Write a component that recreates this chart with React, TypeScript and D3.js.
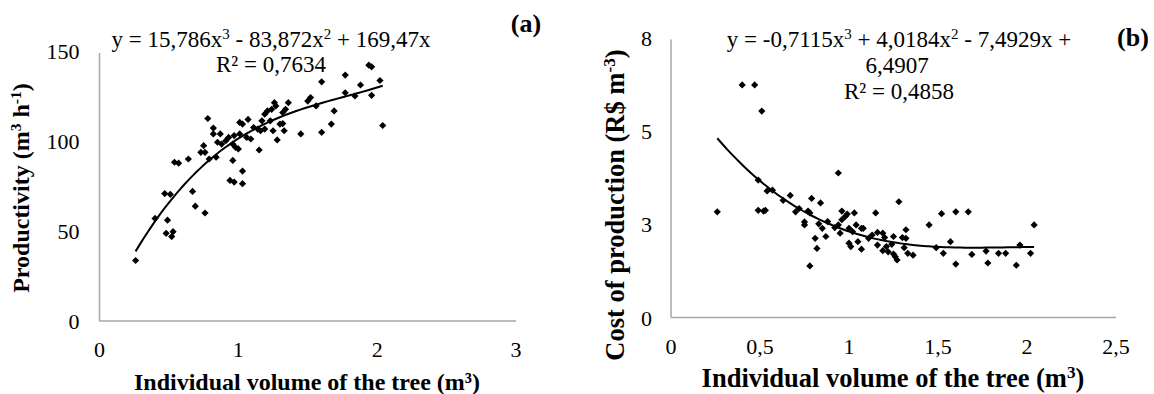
import * as d3 from 'd3';

// (a) productivity vs individual tree volume
const volA = [
  0.26, 0.40, 0.47, 0.51, 0.49, 0.48, 0.52, 0.53, 0.54, 0.57,
  0.64, 0.67, 0.69, 0.76, 0.73, 0.75, 0.76, 0.78, 0.79, 0.82,
  0.82, 0.84, 0.85, 0.87, 0.88, 0.91, 0.93, 0.94, 0.97, 0.96,
  0.96, 0.97, 0.98, 1.00, 1.01, 1.01, 1.03, 1.03, 1.03, 1.06,
  1.07, 1.09, 1.11, 1.14, 1.15, 1.16, 1.17, 1.19, 1.19, 1.21,
  1.23, 1.24, 1.25, 1.26, 1.27, 1.28, 1.30, 1.32, 1.33, 1.34,
  1.36, 1.32, 1.45, 1.50, 1.52, 1.56, 1.60, 1.60, 1.67, 1.69,
  1.77, 1.77, 1.84, 1.88, 1.94, 1.96, 1.96, 2.02, 2.04,
];
const prodA = [
  33.6, 57, 70.8, 70.4, 56, 48.7, 46.9, 49.6, 88.2, 87.7,
  90, 72, 63.8, 60, 93.7, 97.4, 93.7, 112.5, 90, 107.2,
  103.9, 91, 99.3, 103.9, 98.3, 100.2, 102, 78.1, 77.2, 89.2,
  98.3, 103, 96.5, 95.6, 103.9, 110.3, 109.4, 83.3, 76.3, 102,
  112, 101.1, 107.5, 106.6, 95, 105.7, 111.2, 106.6, 114.9, 116.7,
  111.2, 117.6, 105.7, 121.3, 119.5, 100.6, 109.4, 115.8, 105.7, 117.6,
  121.3, 109.7, 103.9, 122.2, 124.1, 119.5, 132.9, 104.8, 109.4, 116.7,
  126.8, 136.6, 125, 131.1, 142.1, 141.2, 125.4, 133.6, 108.6,
];
// y = 15,786x³ - 83,872x² + 169,47x
const coefA = [15.786, -83.872, 169.47, 0];
const xTicksA = [0, 1, 2, 3];
const yTicksA = [0, 50, 100, 150];

// (b) cost of production vs individual tree volume
const volB = [
  0.26, 0.40, 0.47, 0.51, 0.49, 0.49, 0.52, 0.53, 0.54, 0.57,
  0.63, 0.67, 0.70, 0.72, 0.75, 0.75, 0.77, 0.78, 0.79, 0.78,
  0.81, 0.82, 0.83, 0.84, 0.85, 0.87, 0.88, 0.92, 0.94, 0.94,
  0.95, 0.96, 0.96, 0.98, 0.99, 1.00, 1.00, 1.01, 1.02, 1.03,
  1.04, 1.05, 1.07, 1.07, 1.08, 1.11, 1.13, 1.15, 1.16, 1.16,
  1.19, 1.19, 1.20, 1.21, 1.22, 1.24, 1.25, 1.25, 1.26, 1.27,
  1.28, 1.30, 1.31, 1.32, 1.32, 1.33, 1.36, 1.45, 1.49, 1.52,
  1.53, 1.57, 1.60, 1.60, 1.67, 1.69, 1.77, 1.78, 1.84, 1.88,
  1.94, 1.96, 2.02, 2.04,
];
const costB = [
  2.83, 6.23, 6.23, 5.53, 3.68, 2.87, 2.85, 2.87, 3.39, 3.41,
  3.14, 3.27, 2.83, 2.92, 2.56, 2.48, 2.85, 2.80, 3.19, 1.38,
  2.12, 1.85, 2.51, 3.07, 2.39, 2.17, 2.57, 2.41, 3.87, 2.48,
  2.26, 2.62, 2.85, 2.71, 2.77, 2.39, 1.99, 1.90, 2.30, 2.80,
  2.48, 2.03, 2.39, 1.83, 2.39, 2.12, 2.21, 2.80, 2.28, 1.94,
  2.26, 1.79, 2.14, 1.90, 1.76, 1.96, 1.70, 2.17, 1.63, 1.54,
  3.10, 2.14, 1.87, 2.35, 2.12, 1.72, 1.67, 2.48, 1.87, 2.78,
  1.72, 2.03, 2.83, 1.43, 2.83, 1.69, 1.78, 1.46, 1.72, 1.72,
  1.40, 1.94, 1.72, 2.48,
];
// y = -0,7115x³ + 4,0184x² - 7,4929x + 6,4907
const coefB = [-0.7115, 4.0184, -7.4929, 6.4907];
const xTicksB = [0, 0.5, 1, 1.5, 2, 2.5];
const yTicksB = [0, 2.5, 5, 7.5];

const W = 1154;
const H = 394;
const FONT = '"Liberation Serif", "Times New Roman", serif';
const AXIS = '#a6a6a6';

const poly = (c: number[], x: number) => ((c[0] * x + c[1]) * x + c[2]) * x + c[3];
const comma = (d: number) => String(d).replace('.', ',');

function trend(xs: number[], coef: number[], sx: any, sy: any) {
  const [lo, hi] = d3.extent(xs) as [number, number];
  const pts = d3.range(0, 61).map((i) => lo + ((hi - lo) * i) / 60);
  return d3.line<number>().x((v) => sx(v)).y((v) => sy(poly(coef, v))).curve(d3.curveMonotoneX)(pts) || '';
}

const marker = d3.symbol(d3.symbolSquare, 26)() || '';

function Panel({ xs, ys, coef, sx, sy, xTicks, yTicks, xFmt, yFmt, tickBaseX, tickRightY }: any) {
  const [x0, x1] = sx.range();
  const [y0, y1] = sy.range();
  return (
    <g>
      <line x1={x0} x2={x0} y1={y0} y2={y1 + 2} stroke={AXIS} strokeWidth={1.5} />
      <line x1={x0} x2={x1} y1={y0} y2={y0} stroke={AXIS} strokeWidth={1.5} />
      {yTicks.map((t: number) => (
        <text key={'y' + t} x={tickRightY} y={sy(t) + 8} textAnchor="end" fontSize={22} fontFamily={FONT}>
          {yFmt(t)}
        </text>
      ))}
      {xTicks.map((t: number) => (
        <text key={'x' + t} x={sx(t)} y={tickBaseX} textAnchor="middle" fontSize={22} fontFamily={FONT}>
          {xFmt(t)}
        </text>
      ))}
      {xs.map((v: number, i: number) => (
        <path key={i} d={marker} transform={`translate(${sx(v)},${sy(ys[i])}) rotate(45)`} fill="#000" />
      ))}
      <path d={trend(xs, coef, sx, sy)} fill="none" stroke="#000" strokeWidth={2} />
    </g>
  );
}

export default function App() {
  const xA = d3.scaleLinear().domain([0, 3]).range([99.5, 516]);
  const yA = d3.scaleLinear().domain([0, 150]).range([321, 51]);
  const xB = d3.scaleLinear().domain([0, 2.5]).range([671, 1116]);
  const yB = d3.scaleLinear().domain([0, 7.5]).range([317.5, 37.5]);

  const sup = (s: string) => (
    <tspan baselineShift="super" fontSize="65%">{s}</tspan>
  );

  return (
    <svg width={W} height={H} style={{ position: 'absolute', left: 0, top: 0, background: '#fff' }} fontFamily={FONT}>
      <Panel xs={volA} ys={prodA} coef={coefA} sx={xA} sy={yA} xTicks={xTicksA} yTicks={yTicksA}
        xFmt={comma} yFmt={(d: number) => String(d)} tickBaseX={357} tickRightY={79.5} />
      <Panel xs={volB} ys={costB} coef={coefB} sx={xB} sy={yB} xTicks={xTicksB} yTicks={yTicksB}
        xFmt={comma} yFmt={(d: number) => String(Math.round(d))} tickBaseX={354} tickRightY={652} />

      {/* panel (a) texts */}
      <text x={271} y={46.5} textAnchor="middle" fontSize={23}>
        y = 15,786x{sup('3')} - 83,872x{sup('2')} + 169,47x
      </text>
      <text x={271} y={71.5} textAnchor="middle" fontSize={23}>R² = 0,7634</text>
      <text x={526} y={32} textAnchor="middle" fontSize={26} fontWeight="bold">(a)</text>
      <text x={307} y={390} textAnchor="middle" fontSize={24} fontWeight="bold">
        Individual volume of the tree (m³)
      </text>
      <text transform="translate(28.5,188) rotate(-90)" textAnchor="middle" fontSize={24} fontWeight="bold">
        Productivity (m{sup('3')} h{sup('-1')})
      </text>

      {/* panel (b) texts */}
      <text x={899} y={47} textAnchor="middle" fontSize={23}>
        y = -0,7115x{sup('3')} + 4,0184x{sup('2')} - 7,4929x +
      </text>
      <text x={897} y={73} textAnchor="middle" fontSize={23}>6,4907</text>
      <text x={899} y={99} textAnchor="middle" fontSize={23}>R² = 0,4858</text>
      <text x={1133} y={46} textAnchor="middle" fontSize={26} fontWeight="bold">(b)</text>
      <text x={893} y={387} textAnchor="middle" fontSize={26.5} fontWeight="bold">
        Individual volume of the tree (m{sup('3')})
      </text>
      <text transform="translate(624,205) rotate(-90)" textAnchor="middle" fontSize={26.5} fontWeight="bold">
        Cost of production (R$ m{sup('-3')})
      </text>
    </svg>
  );
}
